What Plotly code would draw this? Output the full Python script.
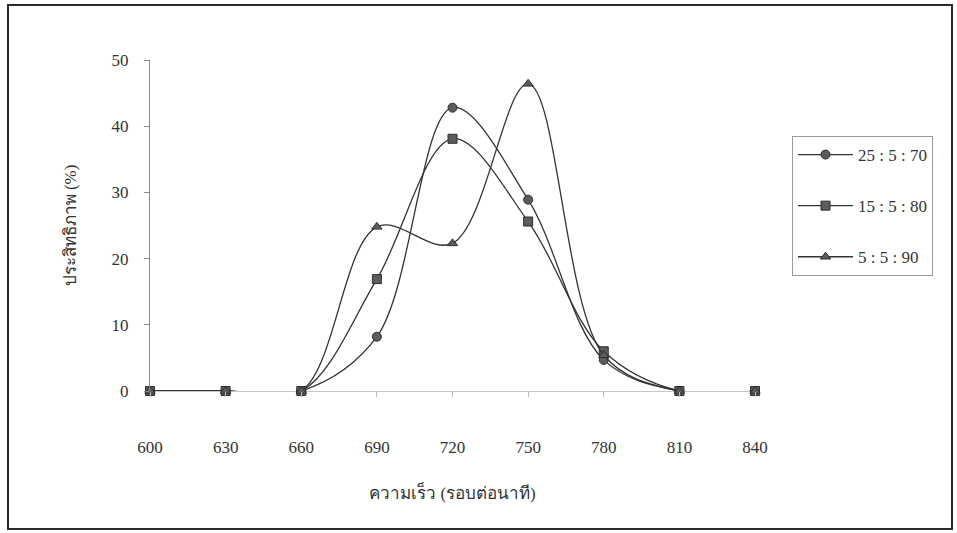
import plotly.graph_objects as go

speeds = [600, 630, 660, 690, 720, 750, 780, 810, 840]
s_25_5_70 = [0, 0, 0, 8.2, 42.8, 28.9, 4.7, 0, 0]
s_15_5_80 = [0, 0, 0, 16.9, 38.1, 25.6, 6.0, 0, 0]
s_5_5_90 = [0, 0, 0, 24.8, 22.3, 46.4, 5.4, 0, 0]
names = ["25 : 5 : 70", "15 : 5 : 80", "5 : 5 : 90"]
yticks = [0, 10, 20, 30, 40, 50]

W, H = 957, 533
L, R, T, B = 150, 202, 60, 142
pw, ph = W - L - R, H - T - B

font_fam = "Liberation Serif, Times New Roman, serif"

fig = go.Figure()
series = [(s_25_5_70, "circle", 9), (s_15_5_80, "square", 9), (s_5_5_90, "triangle-up", 9)]
for i, ((vals, sym, sz), nm) in enumerate(zip(series, names)):
    fig.add_trace(go.Scatter(
        x=speeds, y=vals, name=nm, mode="lines+markers",
        line=dict(color="#333333", width=1.3, shape="spline", smoothing=1.0),
        marker=dict(symbol=sym, size=sz, color="#5c5c5c", line=dict(color="#2e2e2e", width=1)),
        legendgroup=f"g{i}", cliponaxis=False,
    ))

def px_x(p):
    return (p - L) / pw

def px_y(p):
    return (H - B - p) / ph

# outer chart border
fig.add_shape(type="rect", xref="paper", yref="paper",
              x0=px_x(8), x1=px_x(952), y0=px_y(529), y1=px_y(5),
              line=dict(color="#2a2a2a", width=2), layer="below")

fig.update_layout(
    width=W, height=H,
    margin=dict(l=L, r=R, t=T, b=B),
    paper_bgcolor="white", plot_bgcolor="white",
    font=dict(family=font_fam, size=17, color="#333333"),
    showlegend=True,
    legend=dict(x=px_x(792), y=px_y(136), xanchor="left", yanchor="top",
                bordercolor="#9a9a9a", borderwidth=1, bgcolor="white",
                font=dict(family=font_fam, size=17, color="#333333"),
                tracegroupgap=26, itemwidth=55),
    xaxis=dict(
        range=[600, 840], tickvals=speeds, ticktext=[str(s) for s in speeds],
        showgrid=False, zeroline=False, showline=False,
        ticks="outside", ticklen=5, tickcolor="#bbbbbb",
        ticklabelstandoff=36,
        tickfont=dict(family=font_fam, size=17, color="#333333"),
        title=dict(text="ความเร็ว (รอบต่อนาที)", standoff=30,
                   font=dict(family=font_fam, size=17, color="#333333")),
    ),
    yaxis=dict(
        range=[0, 50], tickvals=yticks, showgrid=False,
        zeroline=True, zerolinecolor="#c8c8c8", zerolinewidth=1,
        showline=True, linecolor="#8a8a8a", linewidth=1,
        ticks="outside", ticklen=5, tickcolor="#8a8a8a",
        ticklabelstandoff=12,
        tickfont=dict(family=font_fam, size=17, color="#333333"),
        title=dict(text="ประสิทธิภาพ (%)", standoff=30,
                   font=dict(family=font_fam, size=17, color="#333333")),
    ),
)

fig.write_html("out.html", config={"displayModeBar": False},
               post_script="document.body.style.margin='0px';")
